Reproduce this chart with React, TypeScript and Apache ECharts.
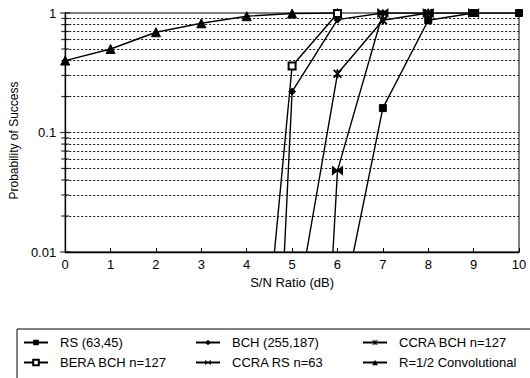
import React, { useEffect, useRef } from "react";
import * as echarts from "echarts";

// S/N ratio (dB) categories on the x axis
const snr = [0, 1, 2, 3, 4, 5, 6, 7, 8, 9, 10];

// Probability of success per series (null = no point)
const rs6345 = [null, null, null, null, null, null, 0.0022, 0.16, 0.87, 1, 1];
const bch255 = [null, null, null, null, 2.8e-9, 0.22, 0.88, 1, null, null, null];
const ccraBch = [null, null, null, null, null, 0.002, 0.31, 0.87, 1, null, null];
const beraBch = [null, null, null, null, 3.6e-5, 0.36, 0.99, null, null, null, null];
const ccraRs = [null, null, null, null, null, 8e-9, 0.048, 1, 1, 1, null];
const conv = [0.4, 0.5, 0.69, 0.82, 0.94, 0.99, 1, null, null, null, null];

// y axis ticks / dotted grid values
const yMajorTicks = [0.01, 0.1, 1];
const yMinorTicks = [0.02, 0.03, 0.04, 0.05, 0.06, 0.07, 0.08, 0.09, 0.2, 0.3, 0.4, 0.5, 0.6, 0.7, 0.8, 0.9];

const ASTERISK =
  "path://M4.3,0 L5.7,0 L5.7,10 L4.3,10 Z M0,1 L1,0 L10,9 L9,10 Z M9,0 L10,1 L1,10 L0,9 Z";
const BOWTIE = "path://M0,0 L10,5 L0,10 Z M20,0 L10,5 L20,10 Z";

const FONT = "'Liberation Sans', Arial, Helvetica, sans-serif";

function pairs(vals: (number | null)[]) {
  return snr.map((x, i) => [x, vals[i] === null ? "-" : vals[i]]);
}

function lineSeries(name: string, vals: (number | null)[], symbol: string, size: any, extra: any = {}) {
  return {
    name,
    type: "line",
    data: pairs(vals),
    symbol,
    symbolSize: size,
    showSymbol: true,
    connectNulls: false,
    clip: true,
    lineStyle: { color: "#000", width: 1.4 },
    itemStyle: { color: "#000", borderColor: "#000" },
    emphasis: { disabled: true },
    ...extra,
  };
}

export default function App() {
  const ref = useRef<HTMLDivElement>(null);
  useEffect(() => {
    if (!ref.current) return;
    const chart = echarts.init(ref.current, undefined, { renderer: "svg" });
    const legendBase = {
      orient: "vertical",
      top: 336,
      padding: 0,
      itemWidth: 24,
      itemHeight: 7,
      itemGap: 7,
      textStyle: { fontFamily: FONT, fontSize: 13, color: "#000", padding: [0, 0, 0, 7] },
      selectedMode: false,
    };
    chart.setOption({
      animation: false,
      backgroundColor: "#fff",
      grid: {
        left: 61,
        right: 11,
        top: 13,
        bottom: 126,
        show: true,
        borderColor: "#000",
        borderWidth: 1,
        backgroundColor: "transparent",
      },
      legend: [
        { ...legendBase, left: 23, data: ["RS (63,45)", "BERA BCH n=127"] },
        { ...legendBase, left: 195, data: ["BCH (255,187)", "CCRA RS n=63"] },
        { ...legendBase, left: 362, data: ["CCRA BCH n=127", "R=1/2 Convolutional"] },
      ],
      graphic: [
        {
          type: "rect",
          shape: { x: 17, y: 329, width: 530, height: 70 },
          style: { fill: "none", stroke: "#000", lineWidth: 1 },
          silent: true,
        },
      ],
      xAxis: {
        type: "value",
        min: 0,
        max: 10,
        interval: 1,
        name: "S/N Ratio (dB)",
        nameLocation: "middle",
        nameGap: 24,
        nameTextStyle: { fontFamily: FONT, fontSize: 13, color: "#000" },
        axisLine: { lineStyle: { color: "#000", width: 1.3 } },
        axisTick: { show: true, inside: true, length: 4, lineStyle: { color: "#000" } },
        axisLabel: { fontFamily: FONT, fontSize: 13, color: "#000", margin: 6 },
        splitLine: { show: false },
      },
      yAxis: {
        type: "log",
        logBase: 10,
        min: 0.01,
        max: 1,
        name: "Probability of Success",
        nameLocation: "middle",
        nameRotate: 90,
        nameGap: 40,
        nameTextStyle: { fontFamily: FONT, fontSize: 12, color: "#000", padding: [0, 16, 0, 0] },
        axisLine: { show: true, lineStyle: { color: "#000", width: 1.3 } },
        axisTick: { show: false },
        axisLabel: { fontFamily: FONT, fontSize: 13, color: "#000", margin: 9 },
        splitLine: { show: false },
      },
      series: [
        {
          type: "scatter",
          name: "yticks",
          data: yMajorTicks.map((v) => [0, v]),
          symbol: "rect",
          symbolSize: [10, 1.2],
          itemStyle: { color: "#000" },
          clip: false,
          silent: true,
          z: 5,
        },
        {
          type: "scatter",
          name: "yminor",
          data: yMinorTicks.map((v) => [0, v]),
          symbol: "rect",
          symbolSize: [8, 1.2],
          itemStyle: { color: "#000" },
          clip: false,
          silent: true,
          z: 5,
          markLine: {
            silent: true,
            symbol: ["none", "none"],
            label: { show: false },
            lineStyle: { color: "#111", width: 1, type: [2, 2] },
            emphasis: { disabled: true },
            data: yMinorTicks.concat([0.1]).map((v) => ({ yAxis: v })),
          },
        },
        lineSeries("R=1/2 Convolutional", conv, "triangle", 9),
        lineSeries("BCH (255,187)", bch255, "diamond", 7),
        lineSeries("BERA BCH n=127", beraBch, "emptyRect", 7, {
          itemStyle: { color: "#000", borderColor: "#000", borderWidth: 1 },
        }),
        lineSeries("CCRA BCH n=127", ccraBch, ASTERISK, 8),
        lineSeries("CCRA RS n=63", ccraRs, BOWTIE, [10, 8]),
        lineSeries("RS (63,45)", rs6345, "rect", 7),
      ],
    });
    return () => chart.dispose();
  }, []);
  return (
    <div
      ref={ref}
      style={{ position: "fixed", left: 0, top: 0, width: 530, height: 378, background: "#fff" }}
    />
  );
}
